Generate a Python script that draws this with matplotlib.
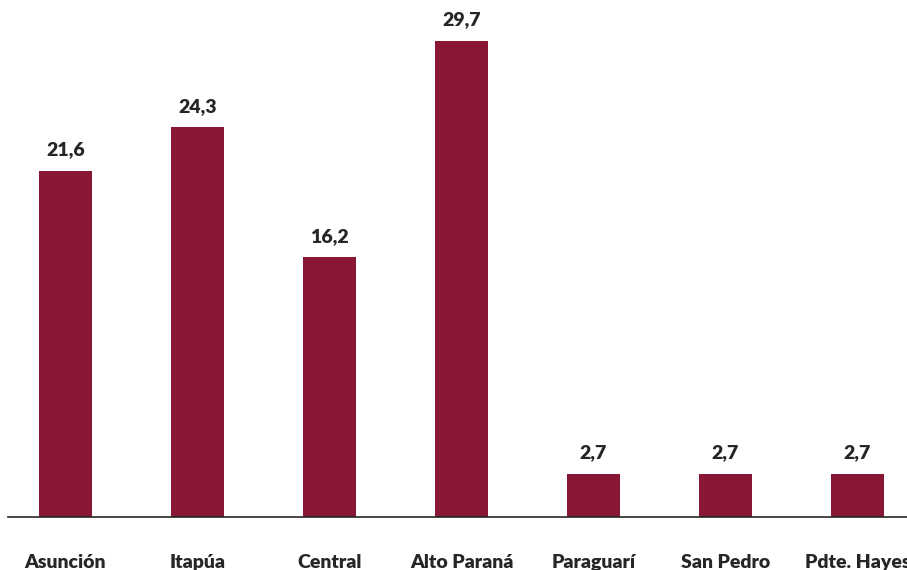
import matplotlib
matplotlib.use("Agg")
import matplotlib.pyplot as plt

# share by department (%)
departments = ["Asunción", "Itapúa", "Central", "Alto Paraná", "Paraguarí", "San Pedro", "Pdte. Hayes"]
values = [21.6, 24.3, 16.2, 29.7, 2.7, 2.7, 2.7]

BAR_COLOR = "#8A1635"
plt.rcParams["font.family"] = ["Lato", "DejaVu Sans"]

fig = plt.figure(figsize=(9.07, 5.70), dpi=100)
ax = fig.add_axes([8 / 907, 53 / 570, 1 - 8 / 907, 517 / 570])

x = range(len(departments))
bars = ax.bar(x, values, width=0.40, color=BAR_COLOR)

for b, v in zip(bars, values):
    ax.annotate(f"{v:.1f}".replace(".", ","),
                xy=(b.get_x() + b.get_width() / 2, v),
                xytext=(0, 9), textcoords="offset points",
                ha="center", va="bottom", fontsize=14, fontweight="heavy",
                color="#262626")

ax.set_xlim(-0.4356, 6.375)
ax.set_ylim(0, 32.25)
ax.set_xticks(list(x))
ax.set_xticklabels(departments, fontsize=14, fontweight="heavy", color="#262626")
ax.tick_params(axis="x", length=0, pad=26.5)
ax.set_yticks([])
for side in ["top", "right", "left"]:
    ax.spines[side].set_visible(False)
ax.spines["bottom"].set_color("#262626")
ax.spines["bottom"].set_linewidth(1.2)

fig.savefig("out.png", dpi=100)
